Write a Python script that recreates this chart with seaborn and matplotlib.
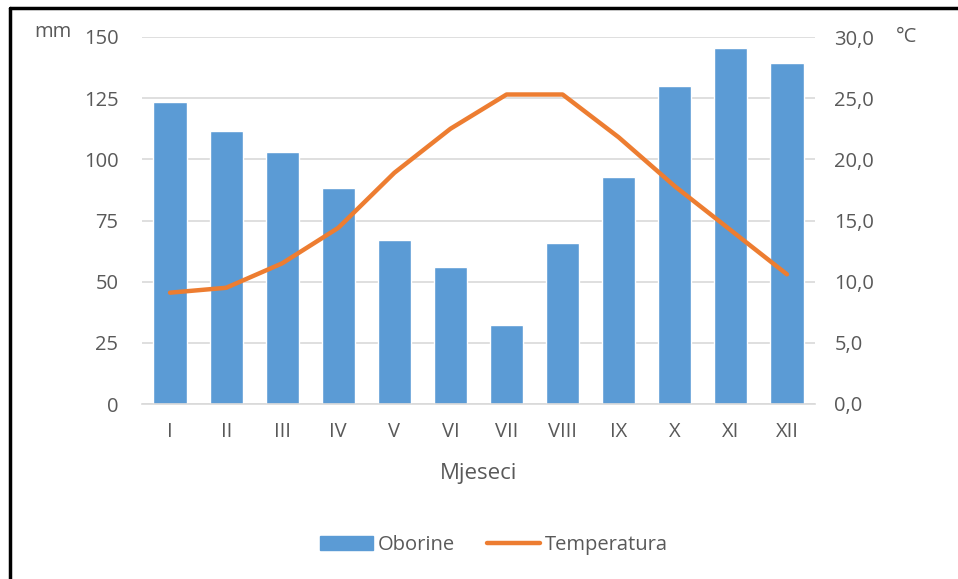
import matplotlib
matplotlib.use('Agg')
import matplotlib.pyplot as plt
from matplotlib.lines import Line2D
from matplotlib.ticker import FuncFormatter
import seaborn as sns
import pandas as pd

# data
mjeseci = ['I', 'II', 'III', 'IV', 'V', 'VI', 'VII', 'VIII', 'IX', 'X', 'XI', 'XII']
oborine = [123.3, 111.6, 103.1, 88.2, 66.9, 56.1, 32.3, 65.9, 92.6, 130.1, 145.5, 139.5]
temperatura = [9.1, 9.5, 11.5, 14.4, 18.9, 22.5, 25.3, 25.3, 21.8, 17.8, 14.2, 10.6]

df = pd.DataFrame({'mjesec': mjeseci, 'oborine': oborine, 'temperatura': temperatura})

sns.set_style('white')
plt.rcParams['font.family'] = ['Open Sans', 'DejaVu Sans']

BLUE = '#5B9BD5'
ORANGE = '#ED7D31'
TXT = '#595959'
GRID = '#D9D9D9'
FS = 14.5

fig = plt.figure(figsize=(9.58, 5.79), dpi=100)
ax = fig.add_axes([142 / 958, 1 - 404 / 579, 673 / 958, 367 / 579])

sns.barplot(data=df, x='mjesec', y='oborine', color=BLUE, width=0.59,
            saturation=1, ax=ax, label='Oborine', legend=False)
ax.set_ylim(0, 150)
ax.set_yticks(range(0, 151, 25))
ax.set_xlim(-0.5, 11.5)
ax.grid(axis='y', color=GRID, linewidth=1.2)
ax.set_axisbelow(True)
for s in ['top', 'left', 'right']:
    ax.spines[s].set_visible(False)
ax.spines['bottom'].set_color(GRID)
ax.spines['bottom'].set_linewidth(1.2)
ax.tick_params(axis='y', length=0, labelsize=FS, colors=TXT, pad=17)
ax.tick_params(axis='x', length=0, labelsize=FS, colors=TXT, pad=13)
ax.set_xlabel('Mjeseci', fontsize=16, color=TXT, labelpad=15)
ax.set_ylabel('')
if ax.get_legend() is not None:
    ax.get_legend().remove()

ax2 = ax.twinx()
sns.lineplot(data=df, x='mjesec', y='temperatura', color=ORANGE, linewidth=3.2,
             sort=False, ax=ax2, label='Temperatura', legend=False)
ax2.set_ylim(0, 30)
ax2.set_yticks(range(0, 31, 5))
ax2.yaxis.set_major_formatter(FuncFormatter(lambda v, p: f'{v:.1f}'.replace('.', ',')))
ax2.set_xlim(-0.5, 11.5)
for s in ['top', 'left', 'right', 'bottom']:
    ax2.spines[s].set_visible(False)
ax2.tick_params(axis='y', length=0, labelsize=FS, colors=TXT, pad=14)
ax2.set_ylabel('')
ax2.set_xlabel('')

fig.text(53 / 958, 1 - 32 / 579, 'mm', fontsize=FS, color=TXT, ha='center', va='center')
fig.text(907 / 958, 1 - 37 / 579, '°C', fontsize=FS, color=TXT, ha='center', va='center')

h1 = [plt.Rectangle((0, 0), 1, 1, color=BLUE)]
h2, l2 = ax2.get_legend_handles_labels()
fig.legend(h1 + h2, ['Oborine'] + l2, loc='center', bbox_to_anchor=(494 / 958, 1 - 545 / 579),
           ncol=2, frameon=False, fontsize=FS, labelcolor=TXT,
           handlelength=2.6, handletextpad=0.25, columnspacing=1.6)

# black frame on the left and top edges
fig.add_artist(Line2D([9.5 / 958, 9.5 / 958], [0, 1 - 8 / 579], color='black', linewidth=2.5,
                      transform=fig.transFigure))
fig.add_artist(Line2D([9.5 / 958, 1], [1 - 8 / 579, 1 - 8 / 579], color='black', linewidth=2.5,
                      transform=fig.transFigure))

fig.savefig('out.png', dpi=100)
